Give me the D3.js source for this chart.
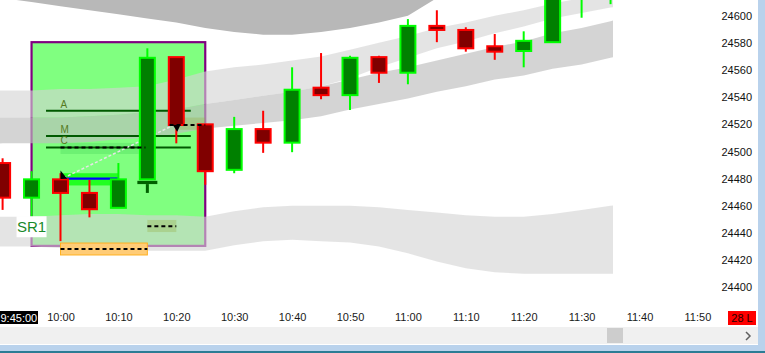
<!DOCTYPE html>
<html>
<head>
<meta charset="utf-8">
<script src="https://cdn.jsdelivr.net/npm/d3@7"></script>
<style>
  body { margin: 0; background: #fff; }
  svg { display: block; font-family: "Liberation Sans", Arial, sans-serif; }
</style>
</head>
<body>
<div id="chart"></div>
<script>
// 5-minute candles
const candleTimes = ['9:50', '9:55', '10:00', '10:05', '10:10', '10:15', '10:20', '10:25', '10:30', '10:35', '10:40',
  '10:45', '10:50', '10:55', '11:00', '11:05', '11:10', '11:15', '11:20', '11:25', '11:30', '11:35'];
const opens  = [24491.5, 24466, 24479.5, 24469.5, 24458.5, 24479.5, 24569.5, 24520, 24486.5, 24516.5, 24506.5,
  24547, 24541.5, 24569.5, 24558, 24592.5, 24589.5, 24577.5, 24574, 24580.5, 24615, 24630];
const highs  = [24495, 24485.5, 24484, 24479, 24491.5, 24576, 24569.5, 24520, 24525.5, 24530, 24562,
  24572.5, 24570.5, 24570.5, 24597.5, 24604, 24591.5, 24586.5, 24588.5, 24630, 24645, 24655];
const lows   = [24457, 24448, 24434, 24451.5, 24458.5, 24479, 24506, 24475.5, 24484, 24499, 24499.5,
  24538.5, 24530.5, 24550.5, 24549.5, 24580.5, 24573.5, 24567.5, 24562, 24580, 24598.5, 24608.5];
const closes = [24466, 24479.5, 24469.5, 24457.5, 24479.5, 24569, 24519.5, 24485.5, 24516.5, 24506.5, 24545.5,
  24541.5, 24569, 24558, 24592.5, 24589.5, 24576, 24573.5, 24581.5, 24625, 24640, 24650];

// channel bands (price edges per bar)
const bandTimes = ['9:45', '9:50', '9:55', '10:00', '10:05', '10:10', '10:15', '10:20', '10:25', '10:30', '10:35', '10:40',
  '10:45', '10:50', '10:55', '11:00', '11:05', '11:10', '11:15', '11:20', '11:25', '11:30', '11:35', '11:40'];
const darkHi  = [24660, 24660, 24660, 24660, 24660, 24660, 24660, 24660, 24660, 24660, 24660, 24660,
  24660, 24660, 24660, 24660, 24660, 24660, 24660, 24660, 24660, 24660, 24660, 24660];
const darkLo  = [24620, 24613, 24610, 24607, 24604, 24601, 24598, 24595, 24591, 24588, 24586, 24586,
  24588, 24591, 24595, 24600, 24613, 24623, 24634, 24634, 24634, 24634, 24634, 24634];
const lightHi = [24545, 24545, 24545, 24546, 24546, 24547, 24548, 24553, 24559, 24562, 24564, 24567,
  24570, 24575, 24580, 24585, 24591, 24595, 24600, 24604, 24609, 24613, 24617, 24622];
const lightLo = [24525, 24525, 24525, 24525, 24526, 24527, 24529, 24531, 24535, 24538, 24541, 24544,
  24548, 24554, 24562, 24569, 24576, 24581, 24587, 24592, 24598, 24602, 24606, 24609];
const midHi   = [24525, 24525, 24525, 24525, 24526, 24527, 24529, 24531, 24535, 24538, 24541, 24544,
  24548, 24553, 24558, 24562, 24567, 24572, 24577, 24581, 24587, 24591, 24596, 24601];
const midLo   = [24505, 24506, 24506, 24506, 24507, 24509, 24510, 24513, 24517, 24519, 24521, 24523,
  24526, 24531, 24535, 24539, 24544, 24548, 24553, 24556, 24561, 24564, 24569, 24573];
const lowHi   = [24451, 24452, 24452, 24453, 24454, 24454, 24453, 24453, 24452, 24456, 24459, 24460,
  24460, 24460, 24459, 24457, 24455, 24453, 24452, 24452, 24454, 24457, 24460, 24463];
const lowLo   = [24430, 24430, 24430, 24429, 24428, 24427, 24427, 24427, 24427, 24431, 24434, 24435,
  24434, 24433, 24430, 24425, 24419, 24414, 24411, 24410, 24410, 24410, 24410, 24410];

// drawing objects (time, price)
const zoneBox = { t0: '9:55', t1: '10:25', hi: 24580.5, lo: 24430.5 };
const levelNames = ['A', 'M', 'C'];
const levelPrices = [24530, 24511.5, 24503];
const levelSpan = ['9:57:30', '10:22:30'];

const priceTicks = [24400, 24420, 24440, 24460, 24480, 24500, 24520, 24540, 24560, 24580, 24600];
const timeTicks = ['10:00', '10:10', '10:20', '10:30', '10:40', '10:50', '11:00', '11:10', '11:20', '11:30', '11:40', '11:50'];

const W = 765, H = 353;
const parseT = s => d3.timeParse(s.split(':').length === 3 ? '%H:%M:%S' : '%H:%M')(s);

const x = d3.scaleTime().domain([parseT('10:00'), parseT('11:50')]).range([60.5, 697.4]);
const y = d3.scaleLinear().domain([24400, 24600]).range([287.3, 15.7]);

const svg = d3.select('#chart').append('svg')
    .attr('width', W)
    .attr('height', H);

svg.append('rect').attr('width', W).attr('height', H).attr('fill', '#fff');

svg.append('clipPath').attr('id', 'plotclip')
  .append('rect').attr('x', 0).attr('y', 0).attr('width', 613).attr('height', 305);

const plot = svg.append('g').attr('clip-path', 'url(#plotclip)');

// zone box
plot.append('rect')
    .attr('x', x(parseT(zoneBox.t0)))
    .attr('y', y(zoneBox.hi))
    .attr('width', x(parseT(zoneBox.t1)) - x(parseT(zoneBox.t0)))
    .attr('height', y(zoneBox.lo) - y(zoneBox.hi))
    .attr('fill', '#80ff80')
    .attr('stroke', '#800080')
    .attr('stroke-width', 2.2);

// bands
const bandData = bandTimes.map((t, i) => ({ t: parseT(t), i }));
function band(hiArr, loArr, color, opacity) {
  const area = d3.area()
      .x(d => x(d.t))
      .y0(d => y(loArr[d.i]))
      .y1(d => y(hiArr[d.i]));
  plot.append('path')
      .datum(bandData)
      .attr('d', area)
      .attr('fill', color)
      .attr('fill-opacity', opacity);
}
band(darkHi, darkLo, '#b8b8b8', 1);
band(lightHi, lightLo, 'rgb(212,212,212)', 0.62);
band(midHi, midLo, 'rgb(189,189,189)', 0.66);
band(lowHi, lowLo, 'rgb(212,212,212)', 0.62);

// shaded stop zone under C
plot.append('rect')
    .attr('x', x(parseT('10:00')))
    .attr('y', y(24506.3))
    .attr('width', x(parseT('10:13:30')) - x(parseT('10:00')))
    .attr('height', y(24498.2) - y(24506.3))
    .attr('fill', 'rgb(40,190,70)')
    .attr('fill-opacity', 0.22);

// level lines A M C
levelNames.forEach((name, i) => {
  plot.append('line')
      .attr('x1', x(parseT(levelSpan[0])))
      .attr('x2', x(parseT(levelSpan[1])))
      .attr('y1', y(levelPrices[i]))
      .attr('y2', y(levelPrices[i]))
      .attr('stroke', '#005a00')
      .attr('stroke-width', 2);
  plot.append('text')
      .attr('x', x(parseT('10:00')))
      .attr('y', y(levelPrices[i]) - 3)
      .attr('font-size', 10)
      .attr('fill', '#557a1e')
      .text(name);
});

// entry line
plot.append('rect')
    .attr('x', x(parseT('10:00')))
    .attr('y', y(24484))
    .attr('width', x(parseT('10:10')) - x(parseT('10:00')))
    .attr('height', y(24475) - y(24484))
    .attr('fill', '#22ff22');
plot.append('line')
    .attr('x1', x(parseT('10:00')))
    .attr('x2', x(parseT('10:10')))
    .attr('y1', y(24480))
    .attr('y2', y(24480))
    .attr('stroke', '#0000ff')
    .attr('stroke-width', 2.2);

// olive / orange target rects
const boxes = [
  { t0: '10:20:30', t1: '10:25', hi: 24525, lo: 24516, fill: 'rgb(150,170,60)', op: 0.3, stroke: 'none' },
  { t0: '10:15', t1: '10:20', hi: 24449.6, lo: 24440.7, fill: 'rgb(150,170,60)', op: 0.3, stroke: 'none' },
  { t0: '10:00', t1: '10:15', hi: 24432.6, lo: 24423.8, fill: '#ffcc77', op: 1, stroke: '#ffb020' }
];
boxes.forEach(b => {
  plot.append('rect')
      .attr('x', x(parseT(b.t0)))
      .attr('y', y(b.hi))
      .attr('width', x(parseT(b.t1)) - x(parseT(b.t0)))
      .attr('height', y(b.lo) - y(b.hi))
      .attr('fill', b.fill)
      .attr('fill-opacity', b.op)
      .attr('stroke', b.stroke);
});

// dotted connector
plot.append('line')
    .attr('x1', x(parseT('10:00:30')))
    .attr('y1', y(24480.5))
    .attr('x2', x(parseT('10:19:15')))
    .attr('y2', y(24518.8))
    .attr('stroke', '#e6e6e6')
    .attr('stroke-width', 1.5)
    .attr('stroke-dasharray', '3,2');

// candles
const candles = candleTimes.map((t, i) => ({
  t: parseT(t), o: opens[i], h: highs[i], l: lows[i], c: closes[i]
}));
const cg = plot.append('g');
cg.selectAll('line.wick')
  .data(candles)
  .join('line')
    .attr('class', 'wick')
    .attr('x1', d => x(d.t))
    .attr('x2', d => x(d.t))
    .attr('y1', d => y(d.h))
    .attr('y2', d => y(d.l))
    .attr('stroke', d => d.c >= d.o ? '#00ff00' : '#ff0000')
    .attr('stroke-width', 2);
cg.selectAll('rect.body')
  .data(candles)
  .join('rect')
    .attr('class', 'body')
    .attr('x', d => x(d.t) - 7.5)
    .attr('width', 15)
    .attr('y', d => y(Math.max(d.o, d.c)))
    .attr('height', d => Math.max(1, y(Math.min(d.o, d.c)) - y(Math.max(d.o, d.c))))
    .attr('fill', d => d.c >= d.o ? '#008000' : '#800000')
    .attr('stroke', d => d.c >= d.o ? '#00ff00' : '#ff0000')
    .attr('stroke-width', 2);

// stop marker under the 10:15 bar
const tx = x(parseT('10:15'));
plot.append('rect')
    .attr('x', tx - 10).attr('y', y(24478.4))
    .attr('width', 20).attr('height', y(24476) - y(24478.4))
    .attr('fill', '#006000');
plot.append('rect')
    .attr('x', tx - 1.5).attr('y', y(24476))
    .attr('width', 3).attr('height', y(24469.5) - y(24476))
    .attr('fill', '#006000');

// dashed lines
const dashes = [
  { t0: '10:00', t1: '10:14:40', p: 24503 },
  { t0: '10:18:50', t1: '10:25', p: 24519.5 },
  { t0: '10:15', t1: '10:20', p: 24445 },
  { t0: '10:00', t1: '10:15', p: 24428.2 }
];
dashes.forEach(d => {
  plot.append('line')
      .attr('x1', x(parseT(d.t0)))
      .attr('x2', x(parseT(d.t1)))
      .attr('y1', y(d.p))
      .attr('y2', y(d.p))
      .attr('stroke', '#000')
      .attr('stroke-width', 2)
      .attr('stroke-dasharray', '4,3');
});

// arrow heads
const arrowA = [[parseT('10:00'), 24486], [parseT('10:01:10'), 24480], [parseT('10:00'), 24479.7]];
const arrowB = [[parseT('10:19:20'), 24519.8], [parseT('10:20:45'), 24519.8], [parseT('10:20:10'), 24514.6]];
[arrowA, arrowB].forEach(pts => {
  plot.append('path')
      .attr('d', d3.line().x(p => x(p[0])).y(p => y(p[1]))(pts) + 'Z')
      .attr('fill', '#000');
});

// SR1 label
const srx = x(parseT('9:55')), sry = y(24444.6);
plot.append('rect')
    .attr('x', srx - 15).attr('y', sry - 10.5)
    .attr('width', 30).attr('height', 21)
    .attr('fill', '#fff');
plot.append('text')
    .attr('x', srx).attr('y', sry + 5.5)
    .attr('text-anchor', 'middle')
    .attr('font-size', 15)
    .attr('fill', '#1a8a2a')
    .text('SR1');

// price axis
const yAxis = svg.append('g')
    .attr('transform', 'translate(752,0)')
    .call(d3.axisRight(y).tickValues(priceTicks).tickSize(0).tickFormat(d3.format('d')));
yAxis.select('.domain').remove();
yAxis.selectAll('text')
    .attr('x', 0)
    .attr('text-anchor', 'end')
    .attr('font-size', 11)
    .attr('font-family', '"Liberation Sans", Arial, sans-serif')
    .attr('fill', '#111');

// time axis
const xAxis = svg.append('g')
    .attr('transform', 'translate(0,313.5)')
    .call(d3.axisBottom(x).tickValues(timeTicks.map(parseT)).tickSize(0).tickPadding(0)
      .tickFormat(d3.timeFormat('%H:%M')));
xAxis.select('.domain').remove();
xAxis.selectAll('text')
    .attr('font-size', 11)
    .attr('font-family', '"Liberation Sans", Arial, sans-serif')
    .attr('fill', '#1a1a1a');

// crosshair time tag
svg.append('rect').attr('x', 0).attr('y', 311).attr('width', 38).attr('height', 13).attr('fill', '#000');
svg.append('text').attr('x', 0.5).attr('y', 321.5).attr('font-size', 11).attr('fill', '#fff').text('9:45:00');

// bar counter tag
svg.append('rect').attr('x', 728).attr('y', 311).attr('width', 28).attr('height', 14).attr('fill', '#ff0000');
svg.append('text').attr('x', 742).attr('y', 322).attr('text-anchor', 'middle')
    .attr('font-size', 11).attr('fill', '#2a0000').text('28 L');

// scrollbar
svg.append('rect').attr('x', 0).attr('y', 327).attr('width', 758).attr('height', 17).attr('fill', '#f0f0f0');
svg.append('rect').attr('x', 607).attr('y', 328).attr('width', 16).attr('height', 15).attr('fill', '#cdcdcd');
svg.append('path').attr('d', 'M746,332 L750,336 L746,340').attr('fill', 'none')
    .attr('stroke', '#606060').attr('stroke-width', 1.5);

// window frame
svg.append('rect').attr('x', 758).attr('y', 0).attr('width', 7).attr('height', H).attr('fill', '#b9d2ec');
svg.append('rect').attr('x', 0).attr('y', 345).attr('width', W).attr('height', 8).attr('fill', '#b9d2ec');
svg.append('rect').attr('x', 0).attr('y', 351).attr('width', W).attr('height', 2).attr('fill', '#2c7c94');
</script>
</body>
</html>
